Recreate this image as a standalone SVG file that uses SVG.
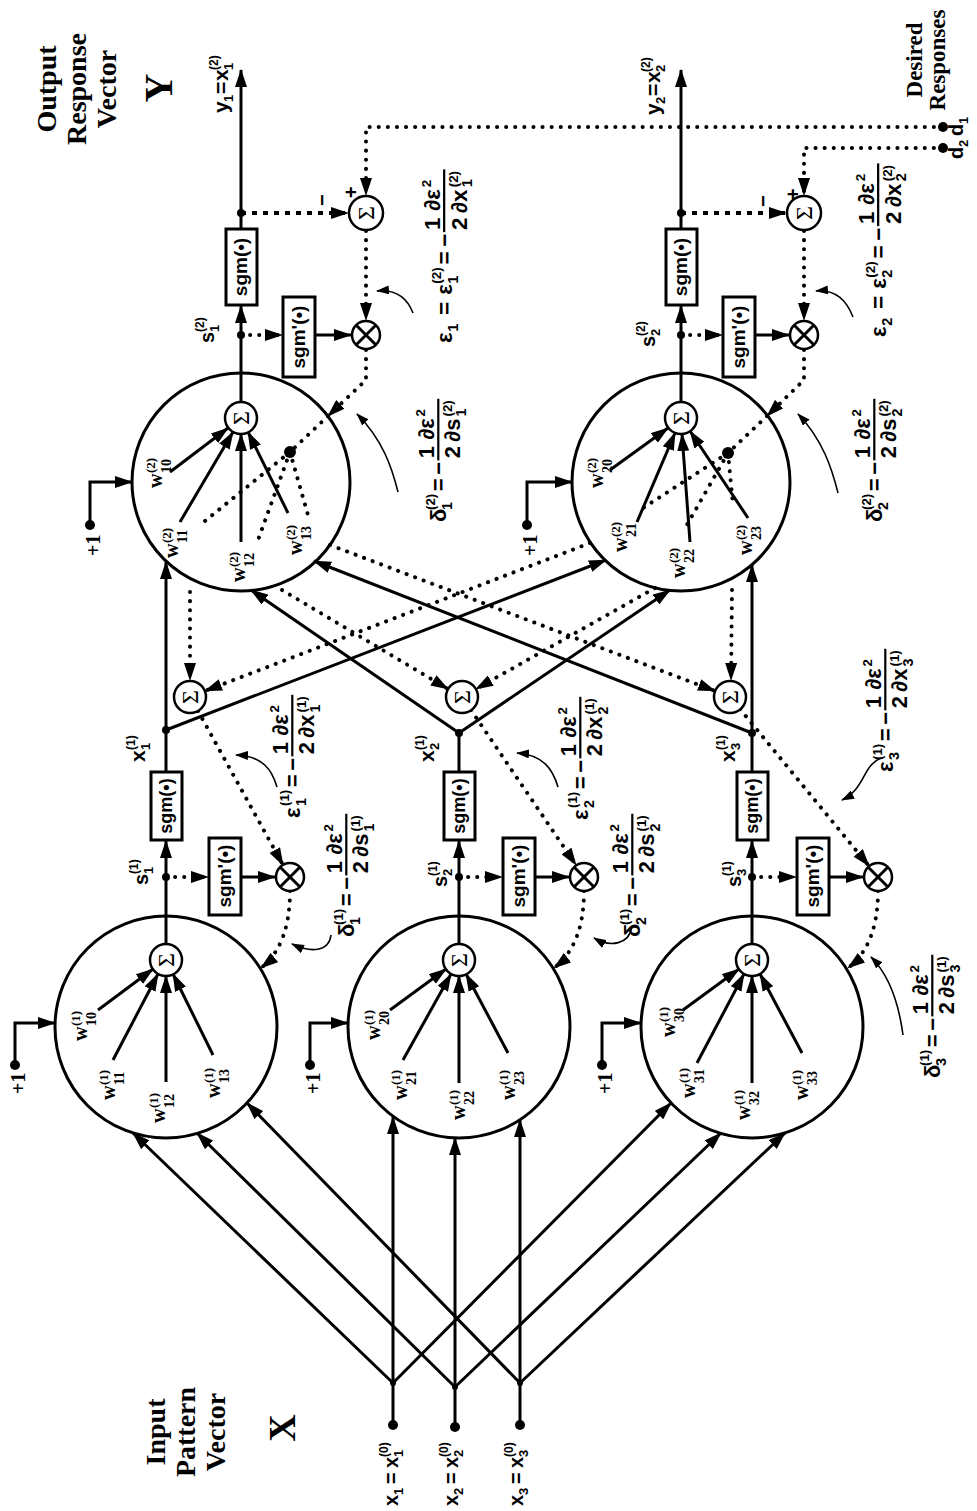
<svg xmlns="http://www.w3.org/2000/svg" width="977" height="1511" viewBox="0 0 977 1511">
<defs>
<style>
.ln{stroke:#000;stroke-width:3;fill:none}
.dt{stroke:#000;stroke-width:4;fill:none;stroke-dasharray:0.1 9;stroke-linecap:round}
.ds{stroke:#000;stroke-width:4;fill:none;stroke-dasharray:5 6}
.pt{stroke:#000;stroke-width:1.6;fill:none}
.nc{stroke:#000;stroke-width:3;fill:none}
.sc{stroke:#000;stroke-width:2.5;fill:#fff}
.bx{stroke:#000;stroke-width:3;fill:#fff}
.sg{font-family:"Liberation Serif","Times New Roman",serif;font-size:24px;text-anchor:middle}
.ser{font-family:"Liberation Serif","Times New Roman",serif;font-weight:bold}
.san{font-family:"Liberation Sans",Arial,sans-serif;font-weight:bold}
</style>
<marker id="a" markerUnits="userSpaceOnUse" markerWidth="18" markerHeight="12" refX="17" refY="6" orient="auto" viewBox="0 0 18 12"><path d="M0,0 L18,6 L0,12 z" fill="#000"/></marker>
<marker id="p" markerUnits="userSpaceOnUse" markerWidth="13" markerHeight="9" refX="12" refY="4.5" orient="auto" viewBox="0 0 13 9"><path d="M0,0 L13,4.5 L0,9 z" fill="#000"/></marker>
</defs>
<rect width="977" height="1511" fill="#fff"/>

<g id="connectors">
<path class="ln" d="M393,1425 L393,1383 M455,1427 L455,1387 M520,1425 L520,1383"/>
<g class="ln" marker-end="url(#a)">
<path d="M393,1383 L133,1133"/><path d="M393,1383 L393,1117"/><path d="M393,1383 L671,1103"/>
<path d="M455,1387 L197,1133"/><path d="M455,1387 L455,1138"/><path d="M455,1387 L721,1133"/>
<path d="M520,1383 L247,1103"/><path d="M520,1383 L520,1120"/><path d="M520,1383 L785,1133"/>
<path d="M15,1065 L15,1023 L55,1023"/><path d="M310,1065 L310,1023 L348,1023"/><path d="M602,1065 L602,1023 L641,1023"/>
<path d="M90,525 L90,482 L132,482"/><path d="M527,525 L527,482 L572,482"/>
<path d="M98,1010 L153,969"/><path d="M113,1060 L158,974"/><path d="M166,1082 L166,976"/><path d="M213,1055 L173,974"/>
<path d="M390,1010 L446,969"/><path d="M403,1060 L451,974"/><path d="M459,1083 L459,976"/><path d="M508,1053 L466,974"/>
<path d="M683,1010 L739,969"/><path d="M697,1063 L744,974"/><path d="M752,1083 L752,976"/><path d="M802,1053 L760,974"/>
<path d="M170,472 L228,428"/><path d="M180,522 L233,432"/><path d="M241,542 L241,434"/><path d="M288,513 L248,432"/>
<path d="M610,470 L668,428"/><path d="M637,522 L675,433"/><path d="M690,542 L682,434"/><path d="M748,518 L690,431"/>
<path d="M166,944 L166,841"/><path d="M459,944 L459,841"/><path d="M752,944 L752,841"/>
<path d="M241,402 L241,306"/><path d="M681,402 L681,306"/>
<path d="M166,772 L166,562"/><path d="M166,730 L606,560"/>
<path d="M459,733 L251,590"/><path d="M459,733 L670,590"/>
<path d="M752,772 L752,565"/><path d="M752,733 L314,561"/>
<path d="M241,229 L241,70"/><path d="M681,229 L681,70"/>
<path d="M315,335 L351,335"/><path d="M755,335 L789,335"/>
<path d="M241,877 L275,877"/><path d="M535,877 L569,877"/><path d="M830,877 L863,877"/>
</g>
<path class="ln" d="M459,772 L459,733"/>
<g class="dt" marker-end="url(#a)">
<path d="M943,127 L366,127 L366,195"/>
<path d="M943,148 L804,148 L804,195"/>
<path d="M366,231 L366,320"/><path d="M804,231 L804,320"/>
<path d="M241,335 L282,335"/><path d="M681,335 L722,335"/>
<path d="M166,877 L208,877"/><path d="M459,877 L502,877"/><path d="M752,877 L796,877"/>
<path d="M366,350 L366,380 L328,416"/><path d="M804,350 L804,380 L767,416"/>
<path d="M190,592 L190,680"/><path d="M282,590 L448,689"/><path d="M330,545 L715,691"/>
<path d="M590,543 L205,691"/><path d="M655,588 L476,689"/><path d="M732,590 L731,680"/>
<path d="M198,711 L283,865"/><path d="M471,710 L576,865"/><path d="M740,709 L869,866"/>
<path d="M290,891 Q290,945 261,968"/><path d="M584,891 Q584,945 554,968"/><path d="M878,891 Q878,945 848,968"/>
</g>
<g class="dt">
<path d="M328,416 L290,452"/><path d="M767,416 L728,453"/>
<path d="M290,452 L200,525"/><path d="M290,452 L258,540"/><path d="M290,452 L308,515"/>
<path d="M728,453 L640,510"/><path d="M728,453 L684,530"/><path d="M728,453 L733,505"/>
</g>
<g class="ds" marker-end="url(#a)">
<path d="M241,213 L348,213"/><path d="M681,213 L786,213"/>
</g>
<g class="pt" marker-end="url(#p)">
<path d="M413,313 C408,300 398,289 377,291"/>
<path d="M853,317 C848,304 838,289 816,291"/>
<path d="M398,492 C392,468 383,440 357,414"/>
<path d="M838,493 C832,469 823,440 798,414"/>
<path d="M277,787 C272,770 263,756 236,755"/>
<path d="M558,787 C553,770 544,755 517,753"/>
<path d="M881,758 C862,766 866,788 842,800"/>
<path d="M331,935 C329,952 311,953 292,944"/>
<path d="M632,927 C629,944 611,948 594,938"/>
<path d="M903,1035 C899,1005 890,976 871,957"/>
</g>
</g>

<g id="hidden1"><circle class="nc" cx="166" cy="1027" r="111"/><circle class="sc" cx="166" cy="960" r="16"/><text class="sg" transform="translate(174,960) rotate(-90)">Σ</text></g>
<g id="hidden2"><circle class="nc" cx="459" cy="1027" r="111"/><circle class="sc" cx="459" cy="960" r="16"/><text class="sg" transform="translate(467,960) rotate(-90)">Σ</text></g>
<g id="hidden3"><circle class="nc" cx="752" cy="1027" r="111"/><circle class="sc" cx="752" cy="960" r="16"/><text class="sg" transform="translate(760,960) rotate(-90)">Σ</text></g>
<g id="output1"><circle class="nc" cx="241" cy="482" r="109"/><circle class="sc" cx="241" cy="418" r="16"/><text class="sg" transform="translate(249,418) rotate(-90)">Σ</text><circle cx="290" cy="452" r="6"/></g>
<g id="output2"><circle class="nc" cx="681" cy="482" r="109"/><circle class="sc" cx="681" cy="418" r="16"/><text class="sg" transform="translate(689,418) rotate(-90)">Σ</text><circle cx="728" cy="453" r="6"/></g>

<g id="errsum-h1"><circle class="sc" cx="190" cy="697" r="16"/><text class="sg" transform="translate(198,697) rotate(-90)">Σ</text></g>
<g id="errsum-h2"><circle class="sc" cx="462" cy="697" r="16"/><text class="sg" transform="translate(470,697) rotate(-90)">Σ</text></g>
<g id="errsum-h3"><circle class="sc" cx="730" cy="697" r="16"/><text class="sg" transform="translate(738,697) rotate(-90)">Σ</text></g>
<g id="errsum-o1"><circle class="sc" cx="366" cy="213" r="17"/><text class="sg" transform="translate(374,213) rotate(-90)">Σ</text></g>
<g id="errsum-o2"><circle class="sc" cx="804" cy="213" r="17"/><text class="sg" transform="translate(812,213) rotate(-90)">Σ</text></g>

<g id="mult-o1"><circle class="sc" cx="366" cy="335" r="14"/><path class="ln" stroke-width="2.5" d="M356,325 L376,345 M376,325 L356,345"/></g>
<g id="mult-o2"><circle class="sc" cx="804" cy="335" r="14"/><path class="ln" stroke-width="2.5" d="M794,325 L814,345 M814,325 L794,345"/></g>
<g id="mult-h1"><circle class="sc" cx="290" cy="877" r="14"/><path class="ln" stroke-width="2.5" d="M280,867 L300,887 M300,867 L280,887"/></g>
<g id="mult-h2"><circle class="sc" cx="584" cy="877" r="14"/><path class="ln" stroke-width="2.5" d="M574,867 L594,887 M594,867 L574,887"/></g>
<g id="mult-h3"><circle class="sc" cx="878" cy="877" r="14"/><path class="ln" stroke-width="2.5" d="M868,867 L888,887 M888,867 L868,887"/></g>

<g id="sgm-o1"><rect class="bx" x="226" y="229" width="31" height="76"/><text class="san" font-size="19" text-anchor="middle" transform="translate(247,267) rotate(-90)">sgm(•)</text></g>
<g id="sgm-o2"><rect class="bx" x="666" y="229" width="31" height="76"/><text class="san" font-size="19" text-anchor="middle" transform="translate(687,267) rotate(-90)">sgm(•)</text></g>
<g id="sgm-h1"><rect class="bx" x="151" y="772" width="31" height="68"/><text class="san" font-size="18" text-anchor="middle" transform="translate(172,806) rotate(-90)">sgm(•)</text></g>
<g id="sgm-h2"><rect class="bx" x="444" y="772" width="31" height="68"/><text class="san" font-size="18" text-anchor="middle" transform="translate(465,806) rotate(-90)">sgm(•)</text></g>
<g id="sgm-h3"><rect class="bx" x="737" y="772" width="31" height="68"/><text class="san" font-size="18" text-anchor="middle" transform="translate(758,806) rotate(-90)">sgm(•)</text></g>
<g id="dsgm-o1"><rect class="bx" x="283" y="297" width="32" height="80"/><text class="san" font-size="19" text-anchor="middle" transform="translate(305,337) rotate(-90)">sgm'(•)</text></g>
<g id="dsgm-o2"><rect class="bx" x="723" y="297" width="32" height="80"/><text class="san" font-size="19" text-anchor="middle" transform="translate(745,337) rotate(-90)">sgm'(•)</text></g>
<g id="dsgm-h1"><rect class="bx" x="209" y="838" width="32" height="77"/><text class="san" font-size="19" text-anchor="middle" transform="translate(231,876) rotate(-90)">sgm'(•)</text></g>
<g id="dsgm-h2"><rect class="bx" x="503" y="838" width="32" height="77"/><text class="san" font-size="19" text-anchor="middle" transform="translate(525,876) rotate(-90)">sgm'(•)</text></g>
<g id="dsgm-h3"><rect class="bx" x="797" y="838" width="32" height="77"/><text class="san" font-size="19" text-anchor="middle" transform="translate(819,876) rotate(-90)">sgm'(•)</text></g>

<g id="dots">
<circle cx="393" cy="1425" r="5"/><circle cx="455" cy="1427" r="5"/><circle cx="520" cy="1425" r="5"/>
<circle cx="393" cy="1383" r="3"/><circle cx="455" cy="1387" r="3"/><circle cx="520" cy="1383" r="3"/>
<circle cx="15" cy="1065" r="5"/><circle cx="310" cy="1065" r="5"/><circle cx="602" cy="1065" r="5"/><circle cx="90" cy="525" r="5"/><circle cx="527" cy="525" r="5"/>
<circle cx="166" cy="877" r="4"/><circle cx="459" cy="877" r="4"/><circle cx="752" cy="877" r="4"/>
<circle cx="166" cy="730" r="4"/><circle cx="459" cy="733" r="4"/><circle cx="752" cy="733" r="4"/>
<circle cx="241" cy="335" r="4"/><circle cx="681" cy="335" r="4"/><circle cx="241" cy="213" r="4"/><circle cx="681" cy="213" r="4"/>
<circle cx="943" cy="127" r="5"/><circle cx="943" cy="148" r="5"/>
</g>

<g id="titles" class="ser" text-anchor="middle">
<g transform="translate(0,89) rotate(-90)" font-size="28"><text x="0" y="56">Output</text><text x="0" y="86">Response</text><text x="0" y="116">Vector</text></g>
<text font-size="40" transform="translate(172,88) rotate(-90)">Y</text>
<g transform="translate(0,1432) rotate(-90)" font-size="28"><text x="0" y="165">Input</text><text x="0" y="195">Pattern</text><text x="0" y="225">Vector</text></g>
<text font-size="38" transform="translate(295,1428) rotate(-90)">X</text>
<g transform="translate(0,60) rotate(-90)" font-size="23"><text x="0" y="922">Desired</text><text x="0" y="945">Responses</text></g>
</g>

<g id="bias-labels" class="ser" font-size="20">
<text transform="translate(25,1094) rotate(-90)">+1</text>
<text transform="translate(320,1094) rotate(-90)">+1</text>
<text transform="translate(612,1094) rotate(-90)">+1</text>
<text transform="translate(100,556) rotate(-90)">+1</text>
<text transform="translate(537,556) rotate(-90)">+1</text>
</g>

<g id="weights" class="ser">
<g transform="translate(87,1041) rotate(-90)"><text font-size="20">w</text><text x="15" y="-7" font-size="13">(1)</text><text x="15" y="9" font-size="14">10</text></g>
<g transform="translate(115,1100) rotate(-90)"><text font-size="20">w</text><text x="15" y="-7" font-size="13">(1)</text><text x="15" y="9" font-size="14">11</text></g>
<g transform="translate(165,1123) rotate(-90)"><text font-size="20">w</text><text x="15" y="-7" font-size="13">(1)</text><text x="15" y="9" font-size="14">12</text></g>
<g transform="translate(220,1098) rotate(-90)"><text font-size="20">w</text><text x="15" y="-7" font-size="13">(1)</text><text x="15" y="9" font-size="14">13</text></g>
<g transform="translate(380,1040) rotate(-90)"><text font-size="20">w</text><text x="15" y="-7" font-size="13">(1)</text><text x="15" y="9" font-size="14">20</text></g>
<g transform="translate(407,1100) rotate(-90)"><text font-size="20">w</text><text x="15" y="-7" font-size="13">(1)</text><text x="15" y="9" font-size="14">21</text></g>
<g transform="translate(465,1120) rotate(-90)"><text font-size="20">w</text><text x="15" y="-7" font-size="13">(1)</text><text x="15" y="9" font-size="14">22</text></g>
<g transform="translate(515,1100) rotate(-90)"><text font-size="20">w</text><text x="15" y="-7" font-size="13">(1)</text><text x="15" y="9" font-size="14">23</text></g>
<g transform="translate(675,1037) rotate(-90)"><text font-size="20">w</text><text x="15" y="-7" font-size="13">(1)</text><text x="15" y="9" font-size="14">30</text></g>
<g transform="translate(695,1098) rotate(-90)"><text font-size="20">w</text><text x="15" y="-7" font-size="13">(1)</text><text x="15" y="9" font-size="14">31</text></g>
<g transform="translate(750,1120) rotate(-90)"><text font-size="20">w</text><text x="15" y="-7" font-size="13">(1)</text><text x="15" y="9" font-size="14">32</text></g>
<g transform="translate(808,1100) rotate(-90)"><text font-size="20">w</text><text x="15" y="-7" font-size="13">(1)</text><text x="15" y="9" font-size="14">33</text></g>
<g transform="translate(162,488) rotate(-90)"><text font-size="20">w</text><text x="15" y="-7" font-size="13">(2)</text><text x="15" y="9" font-size="14">10</text></g>
<g transform="translate(178,558) rotate(-90)"><text font-size="20">w</text><text x="15" y="-7" font-size="13">(2)</text><text x="15" y="9" font-size="14">11</text></g>
<g transform="translate(245,582) rotate(-90)"><text font-size="20">w</text><text x="15" y="-7" font-size="13">(2)</text><text x="15" y="9" font-size="14">12</text></g>
<g transform="translate(302,555) rotate(-90)"><text font-size="20">w</text><text x="15" y="-7" font-size="13">(2)</text><text x="15" y="9" font-size="14">13</text></g>
<g transform="translate(603,488) rotate(-90)"><text font-size="20">w</text><text x="15" y="-7" font-size="13">(2)</text><text x="15" y="9" font-size="14">20</text></g>
<g transform="translate(627,552) rotate(-90)"><text font-size="20">w</text><text x="15" y="-7" font-size="13">(2)</text><text x="15" y="9" font-size="14">21</text></g>
<g transform="translate(685,578) rotate(-90)"><text font-size="20">w</text><text x="15" y="-7" font-size="13">(2)</text><text x="15" y="9" font-size="14">22</text></g>
<g transform="translate(752,555) rotate(-90)"><text font-size="20">w</text><text x="15" y="-7" font-size="13">(2)</text><text x="15" y="9" font-size="14">23</text></g>
</g>

<g id="signal-labels" class="san">
<g transform="translate(398,1506) rotate(-90)"><text font-size="20">x</text><text x="11" y="5" font-size="13">1</text><text x="22" font-size="20">=</text><text x="38" font-size="20">x</text><text x="49" y="5" font-size="13">1</text><text x="49" y="-10" font-size="12">(0)</text></g>
<g transform="translate(458,1506) rotate(-90)"><text font-size="20">x</text><text x="11" y="5" font-size="13">2</text><text x="22" font-size="20">=</text><text x="38" font-size="20">x</text><text x="49" y="5" font-size="13">2</text><text x="49" y="-10" font-size="12">(0)</text></g>
<g transform="translate(523,1506) rotate(-90)"><text font-size="20">x</text><text x="11" y="5" font-size="13">3</text><text x="22" font-size="20">=</text><text x="38" font-size="20">x</text><text x="49" y="5" font-size="13">3</text><text x="49" y="-10" font-size="12">(0)</text></g>
<g transform="translate(228,113) rotate(-90)"><text font-size="21">y</text><text x="11" y="5" font-size="13">1</text><text x="19" font-size="21">=</text><text x="32" font-size="21">x</text><text x="43" y="5" font-size="13">1</text><text x="43" y="-10" font-size="12">(2)</text></g>
<g transform="translate(660,115) rotate(-90)"><text font-size="21">y</text><text x="11" y="5" font-size="13">2</text><text x="19" font-size="21">=</text><text x="32" font-size="21">x</text><text x="43" y="5" font-size="13">2</text><text x="43" y="-10" font-size="12">(2)</text></g>
<g transform="translate(214,343) rotate(-90)"><text font-size="20">s</text><text x="11" y="5" font-size="13">1</text><text x="11" y="-10" font-size="12">(2)</text></g>
<g transform="translate(655,347) rotate(-90)"><text font-size="20">s</text><text x="11" y="5" font-size="13">2</text><text x="11" y="-10" font-size="12">(2)</text></g>
<g transform="translate(148,885) rotate(-90)"><text font-size="20">s</text><text x="11" y="5" font-size="13">1</text><text x="11" y="-10" font-size="12">(1)</text></g>
<g transform="translate(447,887) rotate(-90)"><text font-size="20">s</text><text x="11" y="5" font-size="13">2</text><text x="11" y="-10" font-size="12">(1)</text></g>
<g transform="translate(741,887) rotate(-90)"><text font-size="20">s</text><text x="11" y="5" font-size="13">3</text><text x="11" y="-10" font-size="12">(1)</text></g>
<g transform="translate(145,762) rotate(-90)"><text font-size="21">x</text><text x="12" y="5" font-size="13">1</text><text x="12" y="-10" font-size="12">(1)</text></g>
<g transform="translate(434,762) rotate(-90)"><text font-size="21">x</text><text x="12" y="5" font-size="13">2</text><text x="12" y="-10" font-size="12">(1)</text></g>
<g transform="translate(735,762) rotate(-90)"><text font-size="21">x</text><text x="12" y="5" font-size="13">3</text><text x="12" y="-10" font-size="12">(1)</text></g>
<g transform="translate(963,136) rotate(-90)"><text font-size="20">d</text><text x="12" y="5" font-size="13">1</text></g>
<g transform="translate(963,159) rotate(-90)"><text font-size="20">d</text><text x="12" y="5" font-size="13">2</text></g>
<text font-size="20" transform="translate(329,206) rotate(-90)">−</text>
<text font-size="20" transform="translate(358,198) rotate(-90)">+</text>
<text font-size="20" transform="translate(770,207) rotate(-90)">−</text>
<text font-size="20" transform="translate(800,200) rotate(-90)">+</text>
</g>

<g id="formulas" class="san" font-size="20">
<g transform="translate(452,343) rotate(-90) scale(1.12)"><text>ε</text><text x="10" y="5" font-size="13">1</text><text x="25">=</text><text x="43">ε</text><text x="53" y="5" font-size="13">1</text><text x="53" y="-10" font-size="12">(2)</text><text x="70">=</text><text x="86">−</text><text x="101" y="-11">1</text><text x="118" y="-11">∂ε</text><text x="139" y="-19" font-size="12">2</text><rect x="99" y="-8" width="56" height="2"/><text x="101" y="13">2</text><text x="116" y="13">∂x</text><text x="139" y="18" font-size="13">1</text><text x="139" y="5" font-size="12">(2)</text></g>
<g transform="translate(886,337) rotate(-90) scale(1.12)"><text>ε</text><text x="10" y="5" font-size="13">2</text><text x="25">=</text><text x="43">ε</text><text x="53" y="5" font-size="13">2</text><text x="53" y="-10" font-size="12">(2)</text><text x="70">=</text><text x="86">−</text><text x="101" y="-11">1</text><text x="118" y="-11">∂ε</text><text x="139" y="-19" font-size="12">2</text><rect x="99" y="-8" width="56" height="2"/><text x="101" y="13">2</text><text x="116" y="13">∂x</text><text x="139" y="18" font-size="13">2</text><text x="139" y="5" font-size="12">(2)</text></g>
<g transform="translate(446,522) rotate(-90) scale(1.1)"><text>δ</text><text x="11" y="5" font-size="13">1</text><text x="11" y="-10" font-size="12">(2)</text><text x="28">=</text><text x="43">−</text><text x="58" y="-11">1</text><text x="75" y="-11">∂ε</text><text x="96" y="-19" font-size="12">2</text><rect x="56" y="-8" width="56" height="2"/><text x="58" y="13">2</text><text x="73" y="13">∂s</text><text x="96" y="18" font-size="13">1</text><text x="96" y="5" font-size="12">(2)</text></g>
<g transform="translate(882,522) rotate(-90) scale(1.1)"><text>δ</text><text x="11" y="5" font-size="13">2</text><text x="11" y="-10" font-size="12">(2)</text><text x="28">=</text><text x="43">−</text><text x="58" y="-11">1</text><text x="75" y="-11">∂ε</text><text x="96" y="-19" font-size="12">2</text><rect x="56" y="-8" width="56" height="2"/><text x="58" y="13">2</text><text x="73" y="13">∂s</text><text x="96" y="18" font-size="13">2</text><text x="96" y="5" font-size="12">(2)</text></g>
<g transform="translate(300,818) rotate(-90) scale(1.1)"><text>ε</text><text x="11" y="5" font-size="13">1</text><text x="11" y="-10" font-size="12">(1)</text><text x="28">=</text><text x="43">−</text><text x="58" y="-11">1</text><text x="75" y="-11">∂ε</text><text x="96" y="-19" font-size="12">2</text><rect x="56" y="-8" width="56" height="2"/><text x="58" y="13">2</text><text x="73" y="13">∂x</text><text x="96" y="18" font-size="13">1</text><text x="96" y="5" font-size="12">(1)</text></g>
<g transform="translate(588,820) rotate(-90) scale(1.1)"><text>ε</text><text x="11" y="5" font-size="13">2</text><text x="11" y="-10" font-size="12">(1)</text><text x="28">=</text><text x="43">−</text><text x="58" y="-11">1</text><text x="75" y="-11">∂ε</text><text x="96" y="-19" font-size="12">2</text><rect x="56" y="-8" width="56" height="2"/><text x="58" y="13">2</text><text x="73" y="13">∂x</text><text x="96" y="18" font-size="13">2</text><text x="96" y="5" font-size="12">(1)</text></g>
<g transform="translate(893,772) rotate(-90) scale(1.1)"><text>ε</text><text x="11" y="5" font-size="13">3</text><text x="11" y="-10" font-size="12">(1)</text><text x="28">=</text><text x="43">−</text><text x="58" y="-11">1</text><text x="75" y="-11">∂ε</text><text x="96" y="-19" font-size="12">2</text><rect x="56" y="-8" width="56" height="2"/><text x="58" y="13">2</text><text x="73" y="13">∂x</text><text x="96" y="18" font-size="13">3</text><text x="96" y="5" font-size="12">(1)</text></g>
<g transform="translate(354,937) rotate(-90) scale(1.1)"><text>δ</text><text x="11" y="5" font-size="13">1</text><text x="11" y="-10" font-size="12">(1)</text><text x="28">=</text><text x="43">−</text><text x="58" y="-11">1</text><text x="75" y="-11">∂ε</text><text x="96" y="-19" font-size="12">2</text><rect x="56" y="-8" width="56" height="2"/><text x="58" y="13">2</text><text x="73" y="13">∂s</text><text x="96" y="18" font-size="13">1</text><text x="96" y="5" font-size="12">(1)</text></g>
<g transform="translate(640,937) rotate(-90) scale(1.1)"><text>δ</text><text x="11" y="5" font-size="13">2</text><text x="11" y="-10" font-size="12">(1)</text><text x="28">=</text><text x="43">−</text><text x="58" y="-11">1</text><text x="75" y="-11">∂ε</text><text x="96" y="-19" font-size="12">2</text><rect x="56" y="-8" width="56" height="2"/><text x="58" y="13">2</text><text x="73" y="13">∂s</text><text x="96" y="18" font-size="13">2</text><text x="96" y="5" font-size="12">(1)</text></g>
<g transform="translate(940,1078) rotate(-90) scale(1.1)"><text>δ</text><text x="11" y="5" font-size="13">3</text><text x="11" y="-10" font-size="12">(1)</text><text x="28">=</text><text x="43">−</text><text x="58" y="-11">1</text><text x="75" y="-11">∂ε</text><text x="96" y="-19" font-size="12">2</text><rect x="56" y="-8" width="56" height="2"/><text x="58" y="13">2</text><text x="73" y="13">∂s</text><text x="96" y="18" font-size="13">3</text><text x="96" y="5" font-size="12">(1)</text></g>
</g>
</svg>
